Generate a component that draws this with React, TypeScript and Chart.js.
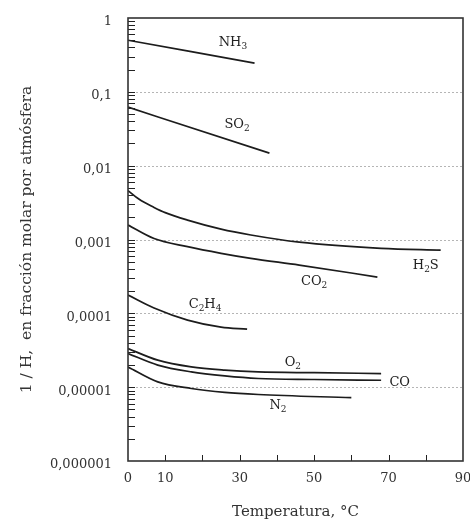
import React, { useEffect, useRef } from 'react';
import { Chart, registerables } from 'chart.js';

Chart.register(...registerables);

const FONT = '"DejaVu Serif", "Liberation Serif", serif';

// Temperatures (°C) and 1/H values
const nh3T = [0, 34];
const nh3V = [0.5, 0.245];
const so2T = [0, 38];
const so2V = [0.062, 0.0148];
const h2sT = [0, 3, 7, 10, 16, 25, 33, 46, 68, 84];
const h2sV = [0.0046, 0.0035, 0.00272, 0.00231, 0.00183, 0.00138, 0.00115, 0.00092, 0.00076, 0.00072];
const co2T = [0, 7, 16, 25, 33, 46, 67];
const co2V = [0.00157, 0.00103, 0.0008, 0.00065, 0.000555, 0.00045, 0.00031];
const c2h4T = [0, 7, 16, 25, 32];
const c2h4V = [0.000177, 0.000118, 0.000081, 0.000065, 0.000061];
const o2T = [0, 8, 17, 26, 35, 50, 68];
const o2V = [3.34e-5, 2.32e-5, 1.88e-5, 1.7e-5, 1.61e-5, 1.57e-5, 1.53e-5];
const coT = [0, 8, 17, 26, 35, 50, 68];
const coV = [2.86e-5, 1.99e-5, 1.61e-5, 1.42e-5, 1.31e-5, 1.27e-5, 1.24e-5];
const n2T = [0, 8, 17, 26, 35, 60];
const n2V = [1.88e-5, 1.18e-5, 9.6e-6, 8.5e-6, 7.96e-6, 7.2e-6];

const seriesT = [nh3T, so2T, h2sT, co2T, c2h4T, o2T, coT, n2T];
const seriesV = [nh3V, so2V, h2sV, co2V, c2h4V, o2V, coV, n2V];

// Curve labels ("_" marks the next character as a subscript) and their anchor (T, value)
const labelTexts = ['NH_3', 'SO_2', 'H_2S', 'CO_2', 'C_2H_4', 'O_2', 'CO', 'N_2'];
const labelT = [28.2, 29.3, 80, 50, 20.7, 44.3, 73, 40.3];
const labelV = [0.458, 0.0355, 4.36e-4, 2.65e-4, 1.33e-4, 2.18e-5, 1.17e-5, 5.7e-6];

const yTickValues = [1e-6, 1e-5, 1e-4, 1e-3, 1e-2, 1e-1, 1];
const yTickLabels = ['0,000001', '0,00001', '0,0001', '0,001', '0,01', '0,1', '1'];
const xTickValues = [0, 10, 20, 30, 40, 50, 60, 70, 80, 90];
const xTickLabels = ['0', '10', '', '30', '', '50', '', '70', '', '90'];

const xTitle = 'Temperatura, °C';
const yTitle = '1 / H,  en fracción molar por atmósfera';

const decorPlugin = {
  id: 'decor',
  beforeDatasetsDraw(chart: any) {
    const { ctx, chartArea: a, scales } = chart;
    const y = scales.y;
    ctx.save();
    ctx.strokeStyle = '#b5b5b5';
    ctx.lineWidth = 1;
    ctx.setLineDash([2, 2]);
    for (const v of yTickValues) {
      if (v === 1 || v === 1e-6) continue;
      const py = Math.round(y.getPixelForValue(v)) + 0.5;
      ctx.beginPath();
      ctx.moveTo(a.left, py);
      ctx.lineTo(a.right, py);
      ctx.stroke();
    }
    ctx.restore();
  },
  afterDatasetsDraw(chart: any) {
    const { ctx, chartArea: a, scales } = chart;
    const x = scales.x;
    const y = scales.y;
    ctx.save();
    ctx.strokeStyle = '#222';
    ctx.lineWidth = 1;
    // y minor/major ticks, inward
    for (let d = -6; d < 0; d++) {
      for (let k = 1; k < 10; k++) {
        if (k === 1 && d === -6) continue;
        const v = k * Math.pow(10, d);
        const py = Math.round(y.getPixelForValue(v)) + 0.5;
        ctx.beginPath();
        ctx.moveTo(a.left, py);
        ctx.lineTo(a.left + 7, py);
        ctx.stroke();
      }
    }
    // x ticks, inward
    for (const t of xTickValues) {
      if (t <= 0 || t >= 90) continue;
      const px = Math.round(x.getPixelForValue(t)) + 0.5;
      ctx.beginPath();
      ctx.moveTo(px, a.bottom);
      ctx.lineTo(px, a.bottom - 6);
      ctx.stroke();
    }
    // frame
    ctx.strokeStyle = '#333';
    ctx.lineWidth = 1.6;
    ctx.strokeRect(a.left, a.top, a.right - a.left, a.bottom - a.top);

    // curve labels
    ctx.fillStyle = '#222';
    ctx.textBaseline = 'middle';
    const mainFont = '13px ' + FONT;
    const subFont = '9px ' + FONT;
    labelTexts.forEach((txt, i) => {
      const parts: { s: string; sub: boolean }[] = [];
      for (let j = 0; j < txt.length; j++) {
        if (txt[j] === '_') {
          parts.push({ s: txt[j + 1], sub: true });
          j++;
        } else parts.push({ s: txt[j], sub: false });
      }
      let w = 0;
      for (const p of parts) {
        ctx.font = p.sub ? subFont : mainFont;
        w += ctx.measureText(p.s).width;
      }
      let cx = x.getPixelForValue(labelT[i]) - w / 2;
      const cy = y.getPixelForValue(labelV[i]);
      for (const p of parts) {
        ctx.font = p.sub ? subFont : mainFont;
        ctx.fillText(p.s, cx, p.sub ? cy + 4 : cy);
        cx += ctx.measureText(p.s).width;
      }
    });
    ctx.restore();
  },
};

const zeroPad = (s: any) => {
  s.paddingTop = 0;
  s.paddingBottom = 0;
  s.paddingLeft = 0;
  s.paddingRight = 0;
};

export default function App() {
  const ref = useRef<HTMLCanvasElement | null>(null);
  useEffect(() => {
    if (!ref.current) return;
    const datasets = seriesT.map((T, i) => ({
      data: T.map((t, j) => ({ x: t, y: seriesV[i][j] })),
      borderColor: '#1c1c1c',
      borderWidth: 1.7,
      pointRadius: 0,
      fill: false,
      tension: 0.4,
      cubicInterpolationMode: 'monotone' as const,
    }));
    const chart = new Chart(ref.current, {
      type: 'line',
      data: { datasets },
      plugins: [decorPlugin],
      options: {
        animation: false,
        responsive: false,
        layout: { autoPadding: false, padding: { top: 18, right: 7, left: 0, bottom: 0 } },
        plugins: { legend: { display: false }, tooltip: { enabled: false } },
        scales: {
          x: {
            type: 'linear',
            min: 0,
            max: 90,
            afterBuildTicks: (s: any) => {
              s.ticks = xTickValues.map((v) => ({ value: v }));
            },
            afterFit: (s: any) => {
              s.height = 68;
              zeroPad(s);
            },
            grid: { display: false, drawTicks: false },
            border: { display: false },
            ticks: {
              autoSkip: false,
              maxRotation: 0,
              padding: 10,
              color: '#333',
              font: { family: FONT, size: 13 },
              callback: (v: any, i: number) => xTickLabels[i],
            },
            title: {
              display: true,
              text: xTitle,
              color: '#333',
              font: { family: FONT, size: 15 },
              padding: { top: 0, bottom: 8 },
            },
          },
          y: {
            type: 'logarithmic',
            min: 1e-6,
            max: 1,
            afterBuildTicks: (s: any) => {
              s.ticks = yTickValues.map((v) => ({ value: v }));
            },
            afterFit: (s: any) => {
              s.width = 128;
              zeroPad(s);
            },
            grid: { display: false, drawTicks: false },
            border: { display: false },
            ticks: {
              autoSkip: false,
              padding: 16,
              labelOffset: 4,
              color: '#333',
              font: { family: FONT, size: 13 },
              callback: (v: any, i: number) => yTickLabels[i],
            },
            title: {
              display: true,
              text: yTitle,
              color: '#333',
              font: { family: FONT, size: 15.5 },
              padding: { top: 18, bottom: 0 },
            },
          },
        },
      },
    });
    return () => chart.destroy();
  }, []);
  return (
    <canvas
      ref={ref}
      width={470}
      height={529}
      style={{ position: 'absolute', left: 0, top: 0, background: '#fff' }}
    />
  );
}
